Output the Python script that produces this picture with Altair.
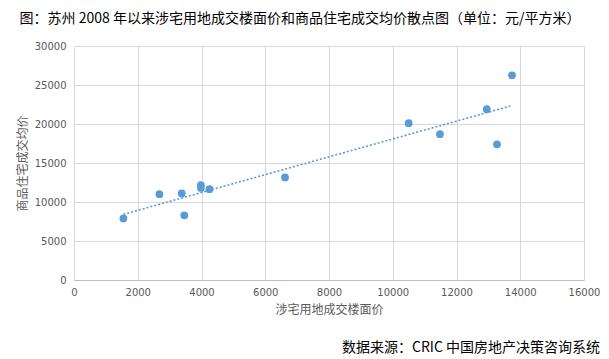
import altair as alt
import pandas as pd

land_price = [1550, 2680, 3380, 3460, 3980, 3980, 4250, 6620, 10500, 11480, 12950, 13270, 13740]
house_price = [7900, 11000, 11100, 8300, 12150, 11800, 11650, 13150, 20100, 18700, 21900, 17400, 26250]
x_ticks = [0, 2000, 4000, 6000, 8000, 10000, 12000, 14000, 16000]
y_ticks = [0, 5000, 10000, 15000, 20000, 25000, 30000]

df = pd.DataFrame({"x": land_price, "y": house_price})
src = pd.DataFrame({"t": ["数据来源：CRIC 中国房地产决策咨询系统"]})

BLUE = "#5b9bd5"
CJK = "Noto Sans CJK SC"

xenc = alt.X("x:Q", scale=alt.Scale(domain=[0, 16000], nice=False),
             axis=alt.Axis(values=x_ticks, format="d", title="涉宅用地成交楼面价", titleFont=CJK,
                           titleFontSize=12, titleFontWeight="normal", titleColor="#595959",
                           titlePadding=7, labelFont="DejaVu Sans", labelFontSize=10,
                           labelColor="#595959", labelPadding=7, ticks=False,
                           labelOverlap=False, domainColor="#bfbfbf", gridColor="#d9d9d9",
                           labelFlush=False))
yenc = alt.Y("y:Q", scale=alt.Scale(domain=[0, 30000], nice=False),
             axis=alt.Axis(values=y_ticks, format="d", title="商品住宅成交均价", titleFont=CJK,
                           titleFontSize=12, titleFontWeight="normal", titleColor="#595959",
                           titlePadding=5, labelFont="DejaVu Sans", labelFontSize=10,
                           labelColor="#595959", labelPadding=8, ticks=False,
                           labelOverlap=False, domain=False, gridColor="#d9d9d9"))

base = alt.Chart(df).encode(x=xenc, y=yenc)
pts = base.mark_circle(size=60, color=BLUE, opacity=1)
trend = alt.Chart(df).mark_line(color=BLUE, strokeDash=[2, 2], strokeWidth=1.6).transform_regression(
    "x", "y").encode(x=xenc, y=yenc)
source = alt.Chart(src).mark_text(font=CJK, fontSize=14, color="#000000", align="right",
                                  baseline="middle").encode(
    text="t:N", x=alt.value(526), y=alt.value(302))

chart = alt.layer(pts, trend, source).properties(
    width=510, height=234,
    title=alt.TitleParams("图：苏州 2008 年以来涉宅用地成交楼面价和商品住宅成交均价散点图（单位：元/平方米）",
                          font=CJK, fontSize=14, fontWeight="normal", color="#000000",
                          anchor="middle", frame="group", dx=-29, offset=15),
    autosize=alt.AutoSizeParams(type="none"),
    padding={"left": 66, "top": 38, "right": 17, "bottom": 78},
).configure_view(stroke=None)

chart.save("out.html", embed_options={"renderer": "svg", "actions": False})
